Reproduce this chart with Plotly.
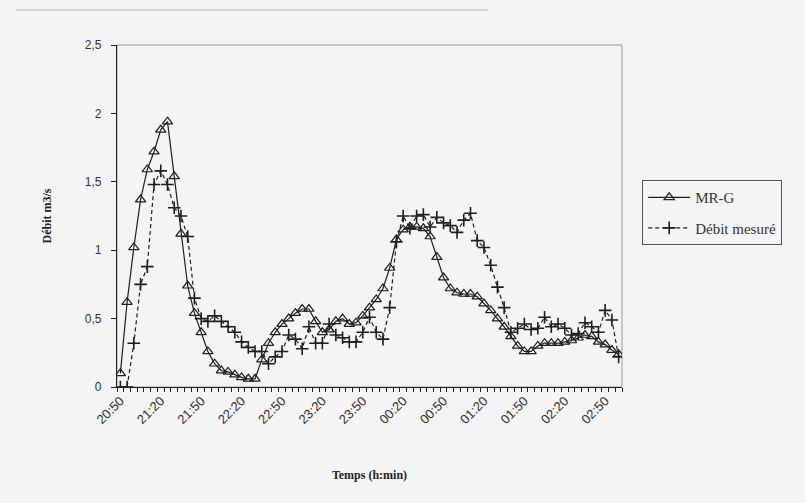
import plotly.graph_objects as go

times = ["20:50", "20:55",
         "21:00", "21:05", "21:10", "21:15", "21:20", "21:25", "21:30", "21:35", "21:40", "21:45", "21:50", "21:55",
         "22:00", "22:05", "22:10", "22:15", "22:20", "22:25", "22:30", "22:35", "22:40", "22:45", "22:50", "22:55",
         "23:00", "23:05", "23:10", "23:15", "23:20", "23:25", "23:30", "23:35", "23:40", "23:45", "23:50", "23:55",
         "00:00", "00:05", "00:10", "00:15", "00:20", "00:25", "00:30", "00:35", "00:40", "00:45", "00:50", "00:55",
         "01:00", "01:05", "01:10", "01:15", "01:20", "01:25", "01:30", "01:35", "01:40", "01:45", "01:50", "01:55",
         "02:00", "02:05", "02:10", "02:15", "02:20", "02:25", "02:30", "02:35", "02:40", "02:45", "02:50", "02:55",
         "03:00"]

mr_g = [0.10, 0.62, 1.02, 1.37, 1.59, 1.72, 1.88, 1.94, 1.54, 1.12,
        0.74, 0.54, 0.40, 0.26, 0.17, 0.12, 0.11, 0.09, 0.07, 0.06,
        0.06, 0.20, 0.32, 0.40, 0.46, 0.50, 0.54, 0.57, 0.57, 0.48,
        0.40, 0.42, 0.48, 0.50, 0.46, 0.47, 0.52, 0.58, 0.64, 0.72,
        0.87, 1.08, 1.15, 1.17, 1.17, 1.16, 1.10, 0.95, 0.80, 0.72,
        0.69, 0.68, 0.68, 0.66, 0.61, 0.56, 0.50, 0.44, 0.37, 0.30,
        0.26, 0.26, 0.30, 0.32, 0.32, 0.32, 0.33, 0.34, 0.36, 0.38,
        0.37, 0.33, 0.31, 0.27, 0.24]

debit_mesure = [0.00, 0.00, 0.32, 0.75, 0.88, 1.48, 1.58, 1.48, 1.31, 1.25,
                1.10, 0.65, 0.50, 0.48, 0.52, 0.48, 0.44, 0.40, 0.33, 0.29,
                0.26, 0.26, 0.17, 0.22, 0.26, 0.38, 0.35, 0.28, 0.44, 0.32,
                0.32, 0.46, 0.38, 0.36, 0.33, 0.33, 0.40, 0.51, 0.40, 0.35,
                0.58, 1.06, 1.25, 1.16, 1.25, 1.26, 1.17, 1.24, 1.20, 1.18,
                1.13, 1.22, 1.27, 1.07, 1.02, 0.89, 0.73, 0.58, 0.40, 0.43,
                0.46, 0.42, 0.43, 0.51, 0.44, 0.46, 0.43, 0.38, 0.39, 0.47,
                0.44, 0.40, 0.56, 0.49, 0.22]

label_step = 6
y_ticks = [0, 0.5, 1, 1.5, 2, 2.5]

slot = list(range(len(times)))          # category slots on the time axis
tick_slots = slot[::label_step]
tick_labels = times[::label_step]

INK = "#1e1e1e"
BG = "#f4f4f4"

fig = go.Figure()
fig.add_trace(go.Scatter(
    x=slot, y=mr_g, name="MR-G", mode="lines+markers", legendgroup="a",
    customdata=times, hovertemplate="%{customdata}: %{y}<extra>MR-G</extra>",
    line=dict(color=INK, width=1.2),
    marker=dict(symbol="triangle-up-open", size=9, color=INK, line=dict(width=1.2)),
))
fig.add_trace(go.Scatter(
    x=slot, y=debit_mesure, name="Débit mesuré", mode="lines+markers", legendgroup="b",
    customdata=times, hovertemplate="%{customdata}: %{y}<extra>Débit mesuré</extra>",
    line=dict(color=INK, width=1.2, dash="4px,3px"),
    marker=dict(symbol="cross-thin-open", size=9, color=INK, line=dict(width=1.6, color=INK)),
))

fig.update_layout(
    width=805, height=503,
    margin=dict(l=117, r=183, t=45, b=116),
    paper_bgcolor=BG, plot_bgcolor=BG,
    separators=", ",
    showlegend=True,
    legend=dict(
        x=1.04, xanchor="left", y=0.605, yanchor="top",
        bgcolor=BG, bordercolor="#555", borderwidth=1,
        font=dict(family="Liberation Serif", size=15, color="#333"),
        tracegroupgap=8, itemwidth=42,
    ),
    shapes=[
        dict(type="rect", xref="paper", yref="paper", x0=0, x1=1, y0=0, y1=1,
             line=dict(color="#9a9a9a", width=1), layer="below"),
        dict(type="line", xref="paper", yref="paper", x0=-0.2, x1=0.735, y0=1.102, y1=1.102,
             line=dict(color="#c8c8c8", width=1.5)),
    ],
)

fig.update_xaxes(
    range=[-0.5, len(times) - 0.5], automargin=False,
    tickmode="array", tickvals=tick_slots, ticktext=tick_labels,
    tickangle=-45, ticks="", showgrid=False,
    showline=True, linecolor=INK, linewidth=1.2,
    tickfont=dict(family="Liberation Sans", size=13, color="#333"),
    minor=dict(ticks="outside", ticklen=4, tickcolor=INK, tickmode="linear", tick0=0.5, dtick=1, showgrid=False),
    title=dict(text="<b>Temps (h:min)</b>", font=dict(family="Liberation Serif", size=12, color="#222"), standoff=44),
    zeroline=False,
)
fig.update_yaxes(
    range=[0, 2.5], tickvals=y_ticks, ticks="outside", ticklen=5, tickcolor=INK, automargin=False,
    showgrid=False, showline=True, linecolor=INK, linewidth=1.2, zeroline=False,
    ticklabelstandoff=7,
    tickfont=dict(family="Liberation Sans", size=12, color="#333"),
    title=dict(text="<b>Débit m3/s</b>", font=dict(family="Liberation Serif", size=12, color="#222"), standoff=30),
)

fig.write_html("out.html", config={"displayModeBar": False},
               post_script="document.body.style.margin='0';")
